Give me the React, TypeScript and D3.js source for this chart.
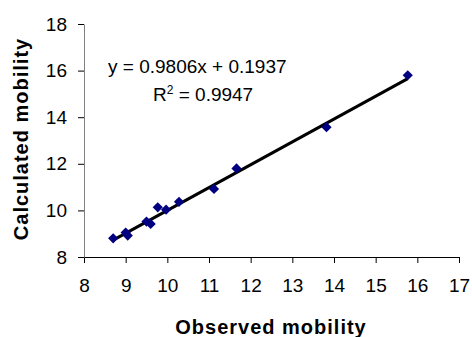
import { useEffect, useRef } from "react";
import * as d3 from "d3";

// observed vs calculated mobility
const observed = [8.7, 9.0, 9.05, 9.5, 9.6, 9.77, 9.97, 10.28, 11.12, 11.66, 13.82, 15.77];
const calculated = [8.8, 9.05, 8.92, 9.52, 9.42, 10.13, 10.03, 10.37, 10.92, 11.8, 13.57, 15.8];
const xTicks = [8, 9, 10, 11, 12, 13, 14, 15, 16, 17];
const yTicks = [8, 10, 12, 14, 16, 18];
const slope = 0.9806;
const intercept = 0.1937;

export default function App() {
  const ref = useRef<SVGSVGElement>(null);

  useEffect(() => {
    const svg = d3.select(ref.current);
    svg.selectAll("*").remove();

    const x = d3.scaleLinear().domain([8, 17]).range([84, 459]);
    const y = d3.scaleLinear().domain([8, 18]).range([257, 24]);
    const font = "Arial, 'Liberation Sans', sans-serif";

    // x axis
    const gx = svg
      .append("g")
      .attr("transform", `translate(0,${y(8)})`)
      .call(d3.axisBottom(x).tickValues(xTicks).tickSize(6).tickPadding(16).tickSizeOuter(0));
    gx.select(".domain").attr("stroke", "#000");
    gx.selectAll("line").attr("stroke", "#000");
    gx.selectAll("text").style("font-size", "19px").style("font-family", font).attr("fill", "#000");

    // y axis
    const gy = svg
      .append("g")
      .attr("transform", `translate(${x(8)},0)`)
      .call(d3.axisLeft(y).tickValues(yTicks).tickSize(6).tickPadding(11).tickSizeOuter(0));
    gy.select(".domain").attr("stroke", "#808080");
    gy.selectAll("line").attr("stroke", "#000");
    gy.selectAll("text").style("font-size", "19px").style("font-family", font).attr("fill", "#000");

    // trend line
    const x0 = d3.min(observed)!;
    const x1 = d3.max(observed)!;
    svg
      .append("line")
      .attr("x1", x(x0))
      .attr("y1", y(slope * x0 + intercept))
      .attr("x2", x(x1))
      .attr("y2", y(slope * x1 + intercept))
      .attr("stroke", "#000")
      .attr("stroke-width", 3);

    // diamonds
    const diamond = d3.symbol().type(d3.symbolSquare).size(52);
    svg
      .append("g")
      .selectAll("path")
      .data(observed)
      .enter()
      .append("path")
      .attr("d", diamond)
      .attr("transform", (d, i) => `translate(${x(d)},${y(calculated[i])}) rotate(45)`)
      .attr("fill", "#000080");

    // equation
    svg
      .append("text")
      .attr("x", 108)
      .attr("y", 73)
      .style("font-size", "19px")
      .style("font-family", font)
      .text(`y = ${slope}x + ${intercept}`);
    const r2 = svg
      .append("text")
      .attr("x", 153)
      .attr("y", 101)
      .style("font-size", "19px")
      .style("font-family", font);
    r2.append("tspan").text("R");
    r2.append("tspan").attr("dy", -7).style("font-size", "12px").text("2");
    r2.append("tspan").attr("dy", 7).text(" = 0.9947");

    // axis titles
    svg
      .append("text")
      .attr("x", 271)
      .attr("y", 334)
      .attr("text-anchor", "middle")
      .style("font-size", "20px")
      .style("font-weight", "bold")
      .style("letter-spacing", "1px")
      .style("font-family", font)
      .text("Observed mobility");
    svg
      .append("text")
      .attr("transform", "translate(28,139) rotate(-90)")
      .attr("text-anchor", "middle")
      .style("font-size", "20px")
      .style("font-weight", "bold")
      .style("letter-spacing", "1px")
      .style("font-family", font)
      .text("Calculated mobility");
  }, []);

  return (
    <svg
      ref={ref}
      width={472}
      height={337}
      style={{ position: "absolute", left: 0, top: 0, background: "#fff" }}
    />
  );
}
